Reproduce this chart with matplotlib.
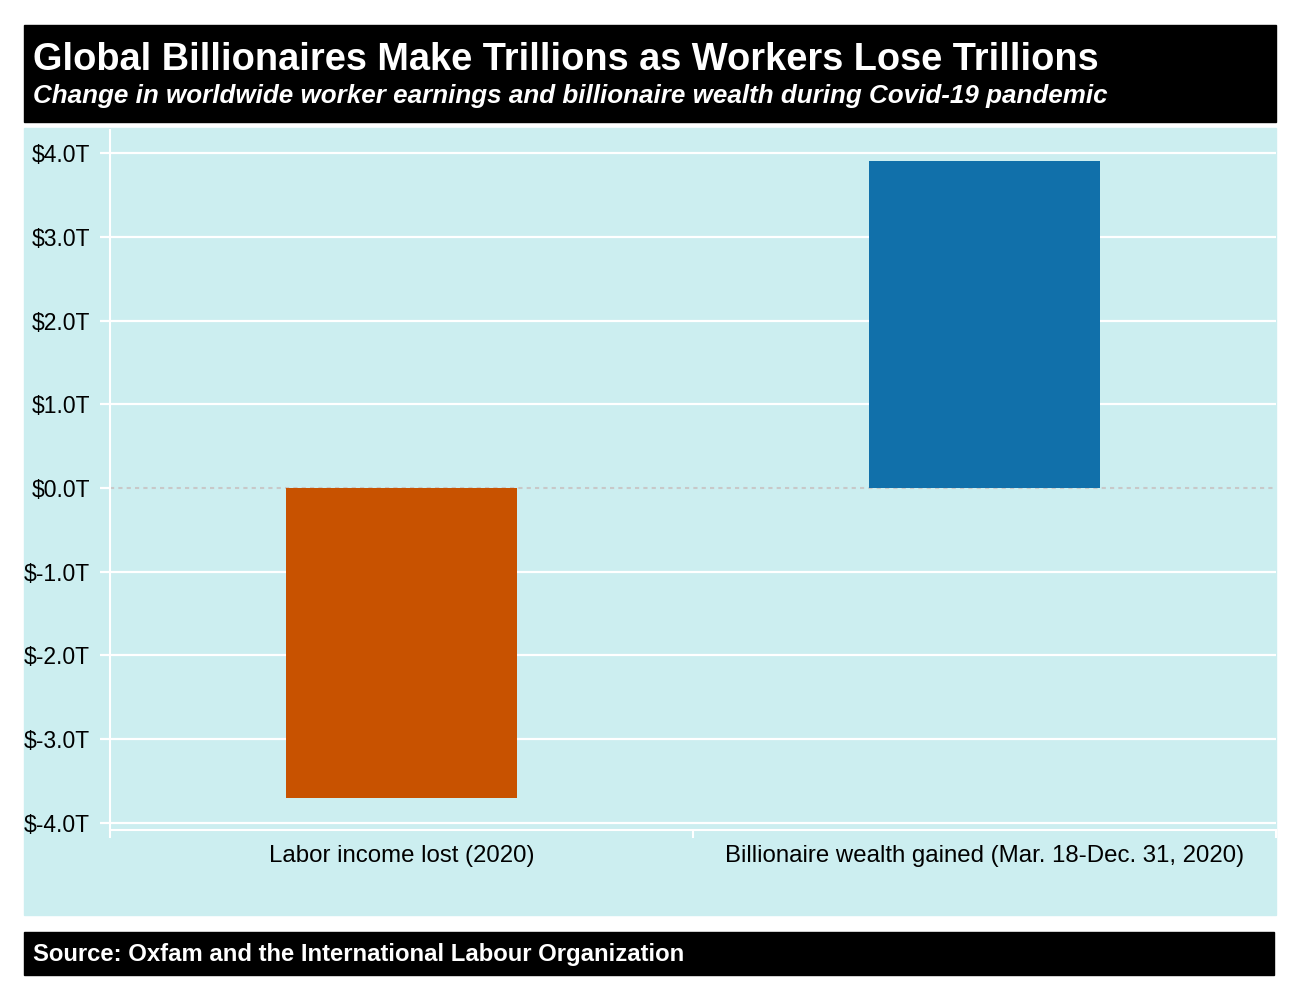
import matplotlib.pyplot as plt
from matplotlib.patches import Rectangle
from matplotlib.ticker import FuncFormatter

plt.rcParams['font.family'] = ['Liberation Sans', 'DejaVu Sans']

categories = ['Labor income lost (2020)', 'Billionaire wealth gained (Mar. 18-Dec. 31, 2020)']
values = [-3.7, 3.9]
colors = ['#c85200', '#1170aa']
yticks = [-4, -3, -2, -1, 0, 1, 2, 3, 4]

title = 'Global Billionaires Make Trillions as Workers Lose Trillions'
subtitle = 'Change in worldwide worker earnings and billionaire wealth during Covid-19 pandemic'
source = 'Source: Oxfam and the International Labour Organization'

W, H = 1298, 998
bg = '#cceef0'

fig = plt.figure(figsize=(W / 100, H / 100), dpi=100)


def box(x0, y0, x1, y1, color):
    # pixel coords, top-left origin
    fig.patches.append(Rectangle((x0 / W, 1 - y1 / H), (x1 - x0) / W, (y1 - y0) / H,
                                 transform=fig.transFigure, color=color, zorder=-5))


box(24, 25, 1276, 122, 'black')
box(24, 128, 1276, 915, bg)
box(24, 932, 1274, 975, 'black')

fig.text(33 / W, 1 - 70 / H, title, color='white', fontsize=27.4, fontweight='bold', va='baseline')
fig.text(33 / W, 1 - 103 / H, subtitle, color='white', fontsize=18.7, fontweight='bold',
         style='italic', va='baseline')
fig.text(33 / W, 1 - 961 / H, source, color='white', fontsize=17.2, fontweight='bold', va='baseline')

ax = fig.add_axes([110 / W, 1 - 830 / H, (1276 - 110) / W, (830 - 130) / H])
ax.set_facecolor(bg)

x = range(len(categories))
ax.bar(x, values, width=0.395, color=colors, zorder=3)
ax.axhline(0, color='#c8c8c8', lw=1.5, ls=(0, (2, 2)), zorder=2)

ax.set_xlim(-0.5, 1.5)
ax.set_ylim(-4.084, 4.275)
ax.set_yticks(yticks)
ax.yaxis.set_major_formatter(FuncFormatter(lambda v, p: f'${v:.1f}T'))
ax.grid(axis='y', color='white', lw=1.6, zorder=1)
ax.get_ygridlines()[yticks.index(0)].set_visible(False)

ax.set_xticks(list(x))
ax.set_xticklabels(categories)
ax.set_xticks([-0.5, 0.5, 1.5], minor=True)
ax.tick_params(axis='x', which='major', length=0, pad=11, labelsize=17.3)
ax.tick_params(axis='x', which='minor', length=6, width=1.5, color='white')
ax.tick_params(axis='y', length=7.5, width=1.6, color='white', pad=7, labelsize=16.5)

for s in ['top', 'right']:
    ax.spines[s].set_visible(False)
for s in ['left', 'bottom']:
    ax.spines[s].set_color('white')
    ax.spines[s].set_linewidth(1.5)

fig.savefig('out.png', dpi=100, facecolor='white')
